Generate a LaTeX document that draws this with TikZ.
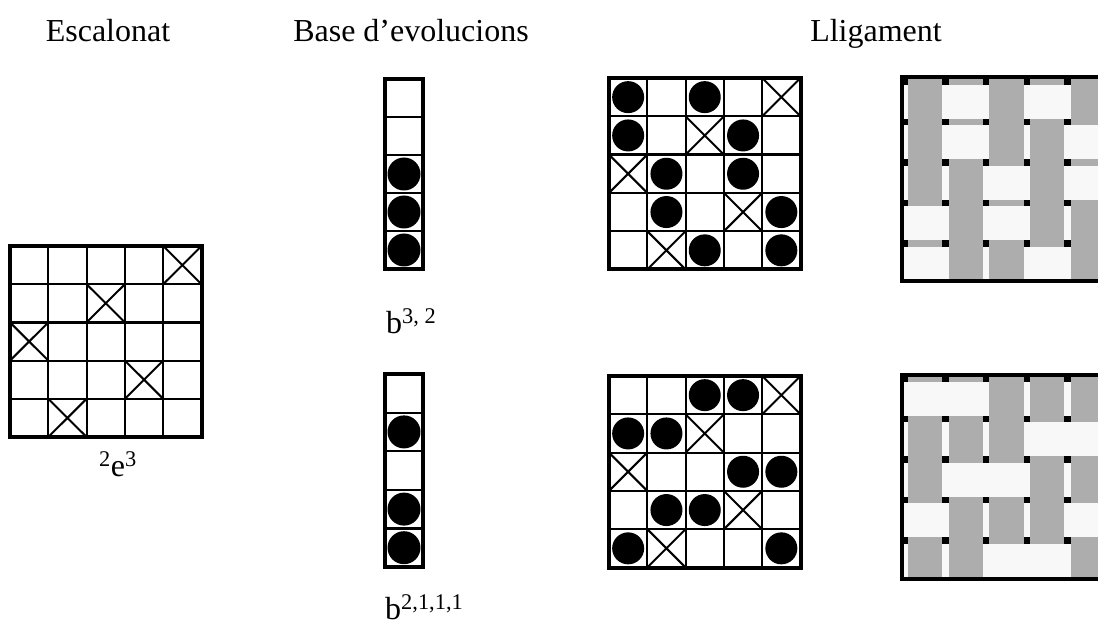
\documentclass[tikz,border=0pt]{standalone}
\usepackage{fontspec}
\setmainfont{Liberation Serif}
\definecolor{warpc}{HTML}{ADADAD}
\definecolor{weftc}{HTML}{F8F8F8}

\begin{document}
\begin{tikzpicture}[x=1pt, y=-1pt,
  gridline/.style={line width=2.2pt},
  frame/.style={line width=4pt},
  crossline/.style={line width=2pt},
  txt/.style={font=\fontsize{32}{38}\selectfont, inner sep=0pt}]
  \useasboundingbox (0,0) rectangle (1098,631);

  % titles
  \node[txt, anchor=base] (tesc) at (108,42) {Escalonat};
  \node[txt, anchor=base] (tbase) at (411,42) {Base d’evolucions};
  \node[txt, anchor=base] (tllig) at (876,42) {Lligament};

  % escalonat 2e3
  \begin{scope}[shift={(10,246)}, x=38.3pt, y=-38.2pt]
    \foreach \k in {1,...,4} {\draw[gridline] (\k,0) -- (\k,5); \draw[gridline] (0,\k) -- (5,\k);}
    \foreach \cx/\ry in {4/0, 2/1, 0/2, 3/3, 1/4} {\draw[crossline] (\cx,\ry) -- ++(1,1) (\cx+1,\ry) -- ++(-1,1);}
    \draw[frame] (0,0) rectangle (5,5);
  \end{scope}
  \node[txt, anchor=base] (lesc) at (118,476) {\textsuperscript{2}e\textsuperscript{3}};

  % base b^{3,2}
  \begin{scope}[shift={(385,79)}, x=38pt, y=-38pt]
    \foreach \k in {1,...,4} {\draw[gridline] (0,\k) -- (1,\k);}
    \foreach \ry in {2,3,4} {\fill (0.5,\ry+0.5) circle (16.5pt);}
    \draw[frame] (0,0) rectangle (1,5);
  \end{scope}
  \node[txt, anchor=base west] (lbone) at (386,333) {b\textsuperscript{3, 2}};

  % base b^{2,1,1,1}
  \begin{scope}[shift={(385,374)}, x=38pt, y=-38.6pt]
    \foreach \k in {1,...,4} {\draw[gridline] (0,\k) -- (1,\k);}
    \foreach \ry in {1,3,4} {\fill (0.5,\ry+0.5) circle (16.5pt);}
    \draw[frame] (0,0) rectangle (1,5);
  \end{scope}
  \node[txt, anchor=base west] (lbtwo) at (385,619) {b\textsuperscript{2,1,1,1}};

  % lligament 1
  \begin{scope}[shift={(609,78)}, x=38.3pt, y=-38.3pt]
    \foreach \k in {1,...,4} {\draw[gridline] (\k,0) -- (\k,5); \draw[gridline] (0,\k) -- (5,\k);}
    \foreach \cx/\ry in {0/0, 2/0, 0/1, 3/1, 1/2, 3/2, 1/3, 4/3, 2/4, 4/4} {\fill (\cx+0.5,\ry+0.5) circle (16pt);}
    \foreach \cx/\ry in {4/0, 2/1, 0/2, 3/3, 1/4} {\draw[crossline] (\cx,\ry) -- ++(1,1) (\cx+1,\ry) -- ++(-1,1);}
    \draw[frame] (0,0) rectangle (5,5);
  \end{scope}

  % lligament 2
  \begin{scope}[shift={(609,376)}, x=38.3pt, y=-38.3pt]
    \foreach \k in {1,...,4} {\draw[gridline] (\k,0) -- (\k,5); \draw[gridline] (0,\k) -- (5,\k);}
    \foreach \cx/\ry in {2/0, 3/0, 0/1, 1/1, 3/2, 4/2, 1/3, 2/3, 0/4, 4/4} {\fill (\cx+0.5,\ry+0.5) circle (16pt);}
    \foreach \cx/\ry in {4/0, 2/1, 0/2, 3/3, 1/4} {\draw[crossline] (\cx,\ry) -- ++(1,1) (\cx+1,\ry) -- ++(-1,1);}
    \draw[frame] (0,0) rectangle (5,5);
  \end{scope}

  % weave 1
  \begin{scope}
    \clip (902,77) rectangle (1112,281);
    \begin{scope}[shift={(905,81.7)}, x=40.6pt, y=-40.4pt]
      \fill[black] (-0.2,-0.2) rectangle (5.2,5.2);
      \foreach \ry in {0,...,4} {\fill[weftc] (-0.2,\ry+0.08) rectangle (5.2,\ry+0.92);}
      \foreach \cx in {0,...,4} {\fill[warpc] (\cx+0.08,-0.2) rectangle (\cx+0.92,5.2);}
      \foreach \cx/\ry in {1/0, 3/0, 1/1, 4/1, 2/2, 4/2, 0/3, 2/3, 0/4, 3/4} {\fill[weftc] (\cx-0.08,\ry+0.08) rectangle (\cx+1.08,\ry+0.92);}
    \end{scope}
  \end{scope}
  \draw[frame] (902,77) rectangle (1112,281);

  % weave 2
  \begin{scope}
    \clip (902,375) rectangle (1112,578.5);
    \begin{scope}[shift={(905,378.7)}, x=40.6pt, y=-40.4pt]
      \fill[black] (-0.2,-0.2) rectangle (5.2,5.2);
      \foreach \ry in {0,...,4} {\fill[weftc] (-0.2,\ry+0.08) rectangle (5.2,\ry+0.92);}
      \foreach \cx in {0,...,4} {\fill[warpc] (\cx+0.08,-0.2) rectangle (\cx+0.92,5.2);}
      \foreach \cx/\ry in {0/0, 1/0, 3/1, 4/1, 1/2, 2/2, 0/3, 4/3, 2/4, 3/4} {\fill[weftc] (\cx-0.08,\ry+0.08) rectangle (\cx+1.08,\ry+0.92);}
    \end{scope}
  \end{scope}
  \draw[frame] (902,375) rectangle (1112,578.5);
\end{tikzpicture}
\end{document}
